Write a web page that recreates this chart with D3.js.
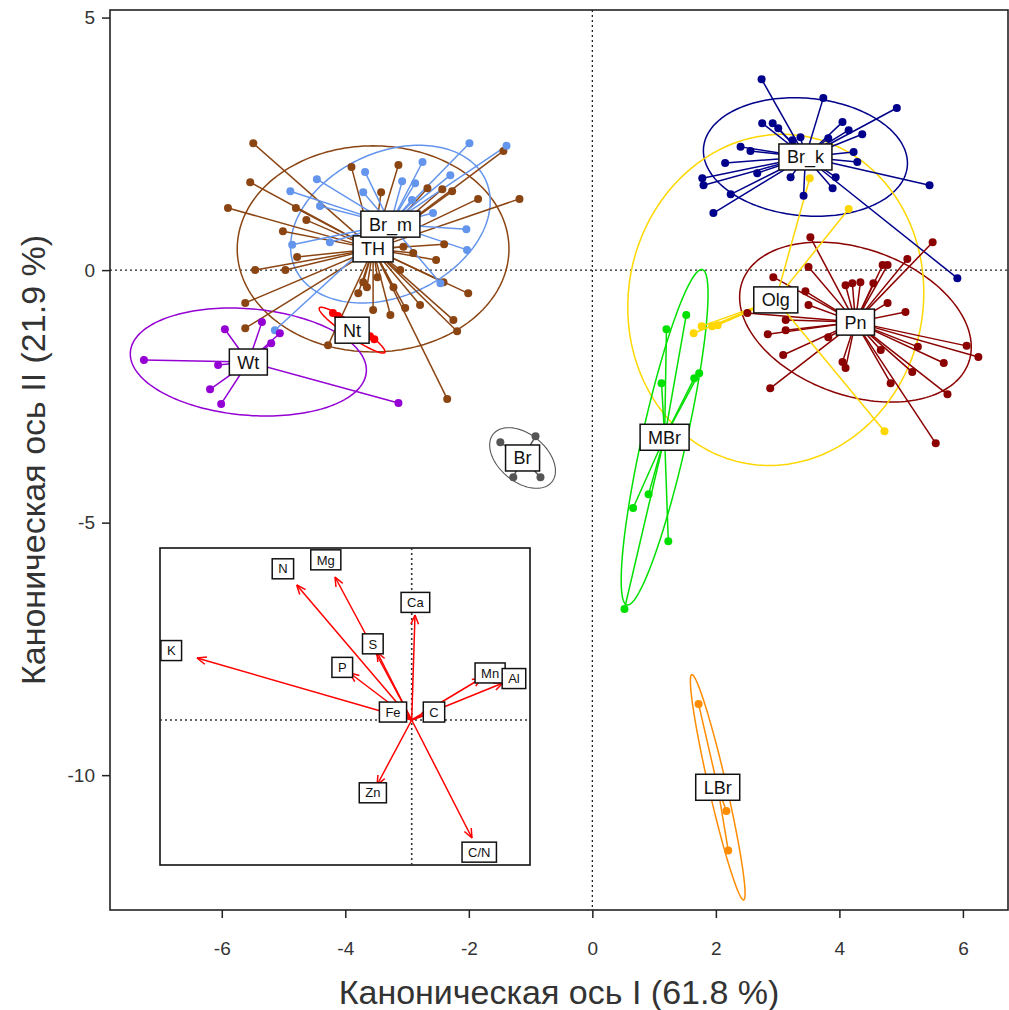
<!DOCTYPE html>
<html>
<head>
<meta charset="utf-8">
<script src="https://cdn.jsdelivr.net/npm/d3@7"></script>
<style>
  body { margin: 0; background: #fff; }
  text { font-family: "Liberation Sans", Arial, sans-serif; }
</style>
</head>
<body>
<svg id="chart" width="1009" height="1010"></svg>
<script>
// ---- Group scores on the first two canonical axes ----
const groups = ["TH", "Br_m", "Nt", "Wt", "Br", "Br_k", "Pn", "Olg", "MBr", "LBr"];

const pointsTH = [
  [-5.49, 2.51], [-5.54, 1.74], [-5.90, 1.23], [-4.80, 1.23], [-4.63, 0.99], [-5.01, 0.77],
  [-4.78, 0.26], [-5.46, 0.00], [-4.97, 0.00], [-5.62, -0.65], [-5.62, -1.15], [-4.28, -1.49],
  [-3.90, 2.04], [-3.42, 1.54], [-3.14, 2.08], [-2.67, 1.62], [-2.43, 1.60], [-2.27, 1.56],
  [-1.85, 1.41], [-1.18, 1.41], [-1.44, 2.36], [-3.06, 0.46], [-2.90, 0.34], [-2.40, 0.51],
  [-2.53, 0.20], [-2.01, -0.46], [-2.41, -0.24], [-2.79, -0.69], [-3.03, -0.75], [-3.27, -0.89],
  [-3.55, -0.79], [-3.79, -0.46], [-2.25, -0.99], [-2.19, -1.21], [-2.35, -2.55], [-3.71, -0.24],
  [-3.11, 0.00], [-3.48, -0.14], [-3.65, -0.34], [-3.22, -0.34]
];
const pointsBrM = [
  [-1.99, 2.51], [-1.39, 2.46], [-2.75, 2.14], [-3.68, 1.94], [-4.46, 1.80], [-4.89, 1.56],
  [-3.08, 1.76], [-2.87, 1.72], [-2.30, 1.88], [-3.71, 1.54], [-4.41, 1.27], [-4.86, 0.50],
  [-4.25, 0.55], [-2.04, 0.81], [-2.03, 0.40], [-2.46, -0.26], [-5.14, -1.19], [-2.58, 1.13],
  [-2.92, 1.39]
];
const pointsNt = [[-4.20, -0.85], [-4.12, -0.91], [-3.60, -1.31], [-3.53, -1.37]];
const pointsWt = [
  [-7.26, -1.78], [-6.06, -1.88], [-5.95, -1.17], [-5.35, -1.03], [-5.06, -1.25],
  [-5.20, -1.45], [-6.19, -2.36], [-6.01, -2.65], [-3.14, -2.63]
];
const pointsBr = [[-1.49, -3.41], [-0.92, -3.29], [-0.84, -4.10], [-1.28, -4.10]];
const pointsBrK = [
  [2.74, 3.78], [3.74, 3.41], [4.93, 3.21], [2.75, 2.91], [2.92, 2.91], [3.01, 2.81],
  [4.05, 2.93], [4.15, 2.77], [4.37, 2.69], [2.40, 2.44], [2.56, 2.36], [2.15, 2.12],
  [1.78, 1.82], [1.80, 1.68], [2.24, 1.50], [1.96, 1.13], [2.67, 1.92], [3.21, 1.84],
  [3.42, 1.47], [3.89, 1.62], [3.94, 1.84], [4.23, 2.34], [4.29, 2.14], [3.24, 2.57],
  [3.37, 2.63], [3.82, 2.61], [5.46, 1.68], [5.91, -0.16]
];
const pointsPn = [
  [3.53, 0.65], [5.51, 0.55], [5.10, 0.22], [4.70, 0.10], [4.78, 0.10], [3.50, 0.06],
  [2.93, -0.14], [4.10, -0.30], [4.21, -0.26], [4.34, -0.24], [4.55, -0.26], [3.45, -0.42],
  [3.50, -0.69], [2.51, -0.85], [4.78, -0.65], [5.07, -0.83], [3.13, -0.99], [3.13, -1.19],
  [2.84, -1.27], [3.82, -1.33], [3.09, -1.68], [4.05, -1.82], [4.10, -1.94], [4.67, -1.58],
  [5.27, -1.52], [6.06, -1.50], [6.25, -1.72], [5.69, -1.84], [5.18, -2.02], [4.83, -2.24],
  [5.75, -2.46], [2.88, -2.34], [5.56, -3.43]
];
const pointsOlg = [
  [3.52, 1.82], [4.15, 1.21], [4.73, -3.19], [1.64, -1.25], [1.77, -1.11], [1.94, -1.11],
  [2.03, -1.09]
];
const pointsMBr = [
  [1.52, -0.89], [1.20, -1.17], [1.12, -2.24], [1.73, -2.04], [1.65, -2.14],
  [0.91, -4.44], [0.66, -4.71], [1.23, -5.37], [0.52, -6.71]
];
const pointsLBr = [[1.72, -8.59], [2.17, -10.71], [2.20, -11.49]];

const groupPoints = [pointsTH, pointsBrM, pointsNt, pointsWt, pointsBr,
                     pointsBrK, pointsPn, pointsOlg, pointsMBr, pointsLBr];

// Class centroids (label positions)
const centroids = [
  [-3.55, 0.42], [-3.27, 0.91], [-3.89, -1.19], [-5.57, -1.82], [-1.13, -3.72],
  [3.45, 2.24], [4.26, -1.03], [2.97, -0.59], [1.17, -3.31], [2.03, -10.24]
];

// Inertia ellipses: two conjugate semi-axis vectors [ax, ay, bx, by]
const ellipseAxes = [
  [2.20, 0.00, 0.00, 2.04],
  [1.54, 0.88, 0.49, -1.29],
  [0.53, -0.44, -0.06, -0.11],
  [1.91, -0.20, -0.07, -1.05],
  [0.47, -0.48, -0.25, -0.36],
  [1.65, -0.18, -0.08, -1.16],
  [1.83, -0.81, -0.41, -1.36],
  [0.47, 3.24, 2.35, -0.50],
  [0.61, 3.32, 0.35, -0.10],
  [0.42, -2.23, 0.14, 0.04]
];

// Variable loadings shown in the inset
const variables = ["N", "Mg", "Ca", "S", "P", "K", "Mn", "Al", "Fe", "C", "Zn", "C/N"];
const loadX = [-1.15, -0.767, 0.033, -0.347, -0.62, -2.147, 0.70, 0.913, -0.167, 0.199, -0.347, 0.603];
const loadY = [1.35, 1.43, 1.05, 0.68, 0.47, 0.62, 0.42, 0.37, 0.071, 0.071, -0.65, -1.18];

// Axis ticks and titles
const xTicks = [-6, -4, -2, 0, 2, 4, 6];
const yTicks = [5, 0, -5, -10];
const xTitle = "Каноническая ось I (61.8 %)";
const yTitle = "Каноническая ось II (21.9 %)";

// ---- Styling ----
const groupColors = ["#8B4513", "#6495ED", "#FF0000", "#9400D3", "#555555",
                     "#00008B", "#8B0000", "#FFD700", "#00E000", "#FF8C00"];

const svg = d3.select("#chart");
const plot = { left: 110, right: 1008, top: 10, bottom: 910 };

const x = d3.scaleLinear().domain([-7.81, 6.73]).range([plot.left, plot.right]);
const y = d3.scaleLinear().domain([-12.67, 5.15]).range([plot.bottom, plot.top]);

// Frame
svg.append("rect")
  .attr("x", plot.left).attr("y", plot.top)
  .attr("width", plot.right - plot.left).attr("height", plot.bottom - plot.top)
  .attr("fill", "none").attr("stroke", "#222").attr("stroke-width", 1.6);

// Axes (plain hyphen-minus in tick labels)
const fmt = d => String(d);
const xAxis = svg.append("g")
  .attr("transform", `translate(0,${plot.bottom})`)
  .call(d3.axisBottom(x).tickValues(xTicks).tickFormat(fmt)
    .tickSize(8).tickPadding(24).tickSizeOuter(0));
const yAxis = svg.append("g")
  .attr("transform", `translate(${plot.left},0)`)
  .call(d3.axisLeft(y).tickValues(yTicks).tickFormat(fmt)
    .tickSize(8).tickPadding(7).tickSizeOuter(0));
[xAxis, yAxis].forEach(g => {
  g.select(".domain").remove();
  g.selectAll(".tick line").attr("stroke", "#222").attr("stroke-width", 1.5);
  g.selectAll(".tick text").attr("fill", "#333").style("font-size", "19px")
    .style("font-family", '"Liberation Sans", Arial, sans-serif');
});

// Axis titles
svg.append("text")
  .attr("x", (plot.left + plot.right) / 2).attr("y", 1004)
  .attr("text-anchor", "middle").attr("fill", "#333")
  .style("font-size", "34px").text(xTitle);
svg.append("text")
  .attr("transform", `translate(45,${(plot.top + plot.bottom) / 2}) rotate(-90)`)
  .attr("text-anchor", "middle").attr("fill", "#333")
  .style("font-size", "34px").text(yTitle);

// Origin reference lines
svg.append("defs").append("clipPath").attr("id", "plotclip")
  .append("rect").attr("x", plot.left).attr("y", plot.top)
  .attr("width", plot.right - plot.left).attr("height", plot.bottom - plot.top);
const main = svg.append("g").attr("clip-path", "url(#plotclip)");

main.append("line")
  .attr("x1", x(0)).attr("x2", x(0)).attr("y1", plot.top).attr("y2", plot.bottom)
  .attr("stroke", "#222").attr("stroke-width", 1.3).attr("stroke-dasharray", "2,3");
main.append("line")
  .attr("x1", plot.left).attr("x2", plot.right).attr("y1", y(0)).attr("y2", y(0))
  .attr("stroke", "#222").attr("stroke-width", 1.3).attr("stroke-dasharray", "2,3");

// Ellipses
const ellipseLine = d3.line().curve(d3.curveLinearClosed);
groups.forEach((g, i) => {
  const [cx, cy] = centroids[i];
  const [ax, ay, bx, by] = ellipseAxes[i];
  const pts = d3.range(0, 2 * Math.PI, Math.PI / 90).map(t => [
    x(cx + Math.cos(t) * ax + Math.sin(t) * bx),
    y(cy + Math.cos(t) * ay + Math.sin(t) * by)
  ]);
  main.append("path").attr("d", ellipseLine(pts))
    .attr("fill", "none").attr("stroke", groupColors[i])
    .attr("stroke-width", g === "Br" ? 1.1 : 1.5);
});

// Stars: each observation joined to its class centroid
groups.forEach((g, i) => {
  const [cx, cy] = centroids[i];
  main.append("g").selectAll("line").data(groupPoints[i]).join("line")
    .attr("x1", x(cx)).attr("y1", y(cy))
    .attr("x2", d => x(d[0])).attr("y2", d => y(d[1]))
    .attr("stroke", groupColors[i]).attr("stroke-width", 1.5);
});

// Observations
groups.forEach((g, i) => {
  main.append("g").selectAll("circle").data(groupPoints[i]).join("circle")
    .attr("cx", d => x(d[0])).attr("cy", d => y(d[1])).attr("r", 4)
    .attr("fill", groupColors[i]);
});

// Boxed labels
function boxLabel(parent, px, py, label, fontSize, padX, boxH) {
  const g = parent.append("g");
  const rect = g.append("rect");
  const t = g.append("text").attr("x", px).attr("y", py).attr("dy", "0.36em")
    .attr("text-anchor", "middle").attr("fill", "#111")
    .style("font-size", fontSize + "px").text(label);
  const w = t.node().getComputedTextLength();
  rect.attr("x", px - w / 2 - padX).attr("y", py - boxH / 2)
    .attr("width", w + 2 * padX).attr("height", boxH)
    .attr("fill", "#fff").attr("stroke", "#111").attr("stroke-width", 1.5);
}
groups.forEach((g, i) => {
  boxLabel(main, x(centroids[i][0]), y(centroids[i][1]), g, 18, 8, 26);
});

// ---- Inset: correlation of variables with the canonical axes ----
const inset = { left: 160, right: 530, top: 548, bottom: 865 };
const xi = d3.scaleLinear().domain([-2.517, 1.183]).range([inset.left, inset.right]);
const yi = d3.scaleLinear().domain([-1.45, 1.72]).range([inset.bottom, inset.top]);
const ins = svg.append("g");
ins.append("rect")
  .attr("x", inset.left).attr("y", inset.top)
  .attr("width", inset.right - inset.left).attr("height", inset.bottom - inset.top)
  .attr("fill", "#fff").attr("stroke", "#111").attr("stroke-width", 1.6);
ins.append("line")
  .attr("x1", xi(0)).attr("x2", xi(0)).attr("y1", inset.top).attr("y2", inset.bottom)
  .attr("stroke", "#333").attr("stroke-width", 1.6).attr("stroke-dasharray", "2,3");
ins.append("line")
  .attr("x1", inset.left).attr("x2", inset.right).attr("y1", yi(0)).attr("y2", yi(0))
  .attr("stroke", "#333").attr("stroke-width", 1.6).attr("stroke-dasharray", "2,3");

variables.forEach((v, i) => {
  const x0 = xi(0), y0 = yi(0);
  const x1 = xi(loadX[i]), y1 = yi(loadY[i]);
  ins.append("line").attr("x1", x0).attr("y1", y0).attr("x2", x1).attr("y2", y1)
    .attr("stroke", "#FF0000").attr("stroke-width", 1.5);
  const ang = Math.atan2(y1 - y0, x1 - x0);
  const head = 10, spread = Math.PI / 8;
  [-spread, spread].forEach(s => {
    ins.append("line").attr("x1", x1).attr("y1", y1)
      .attr("x2", x1 - head * Math.cos(ang + s)).attr("y2", y1 - head * Math.sin(ang + s))
      .attr("stroke", "#FF0000").attr("stroke-width", 1.5);
  });
});
variables.forEach((v, i) => {
  boxLabel(ins, xi(loadX[i] * 1.12), yi(loadY[i] * 1.12), v, 13, 6, 20);
});
</script>
</body>
</html>
